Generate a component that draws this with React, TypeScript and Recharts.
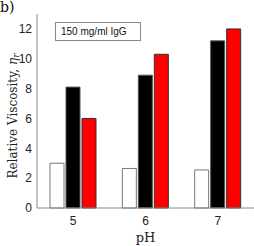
import React from "react";
import { BarChart, Bar, XAxis, YAxis, Label } from "recharts";

// pH categories and relative viscosity per formulation
const phLevels = ["5", "6", "7"];
const whiteSeries = [3.0, 2.65, 2.55];
const blackSeries = [8.1, 8.9, 11.2];
const redSeries = [6.0, 10.3, 12.0];
const yTicks = [0, 2, 4, 6, 8, 10, 12];

const data = phLevels.map((ph, i) => ({
  ph,
  white: whiteSeries[i],
  black: blackSeries[i],
  red: redSeries[i],
}));

const AXIS_GREY = "#8a8a8a";
const SANS = "'Liberation Sans', Arial, sans-serif";
const SERIF = "'DejaVu Serif', serif";

const YLabel = () => {
  const cx = 13;
  const cy = 116;
  return (
    <text
      x={cx}
      y={cy}
      transform={`rotate(-90, ${cx}, ${cy})`}
      textAnchor="middle"
      dominantBaseline="central"
      fontFamily={SERIF}
      fontSize={12}
      fill="#222"
    >
      Relative Viscosity,{" "}
      <tspan fontStyle="italic">η</tspan>
      <tspan fontStyle="italic" fontSize={9} dy={3}>r</tspan>
    </text>
  );
};

const App: React.FC = () => {
  return (
    <div style={{ position: "absolute", left: 0, top: 0, width: 254, height: 246, background: "#fff" }}>
      <div style={{ position: "absolute", left: 0, top: -1, fontFamily: SERIF, fontSize: 14, color: "#111" }}>
        b)
      </div>
      <BarChart
        width={254}
        height={246}
        data={data}
        margin={{ top: 14, right: 0, bottom: 0, left: 0 }}
        barSize={14}
        barGap={2}
      >
        <XAxis
          dataKey="ph"
          height={38}
          axisLine={{ stroke: AXIS_GREY }}
          tickLine={false}
          tickSize={4}
          tickMargin={4}
          tick={{ fontFamily: SANS, fontSize: 12, fill: "#222" }}
        >
          <Label
            value="pH"
            position="insideBottom"
            offset={4}
            style={{ fontFamily: SERIF, fontSize: 13, fill: "#222" }}
          />
        </XAxis>
        <YAxis
          width={37}
          domain={[0, 13]}
          ticks={yTicks}
          axisLine={{ stroke: AXIS_GREY }}
          tickLine={false}
          tickSize={3}
          tickMargin={2}
          tick={{ fontFamily: SANS, fontSize: 12, fill: "#222" }}
        >
          <Label content={<YLabel />} />
        </YAxis>
        <Bar dataKey="white" fill="#ffffff" stroke="#777" strokeWidth={1} isAnimationActive={false} />
        <Bar dataKey="black" fill="#000000" stroke="#555" strokeWidth={1} isAnimationActive={false} />
        <Bar dataKey="red" fill="#ff0000" stroke="#333" strokeWidth={1} isAnimationActive={false} />
      </BarChart>
      <div
        style={{
          position: "absolute",
          left: 55,
          top: 22,
          width: 86,
          height: 19,
          border: "1px solid #888",
          boxSizing: "border-box",
          fontFamily: SANS,
          fontSize: 10,
          lineHeight: "17px",
          paddingLeft: 5,
          color: "#111",
          background: "#fff",
        }}
      >
        150 mg/ml IgG
      </div>
    </div>
  );
};

export default App;
